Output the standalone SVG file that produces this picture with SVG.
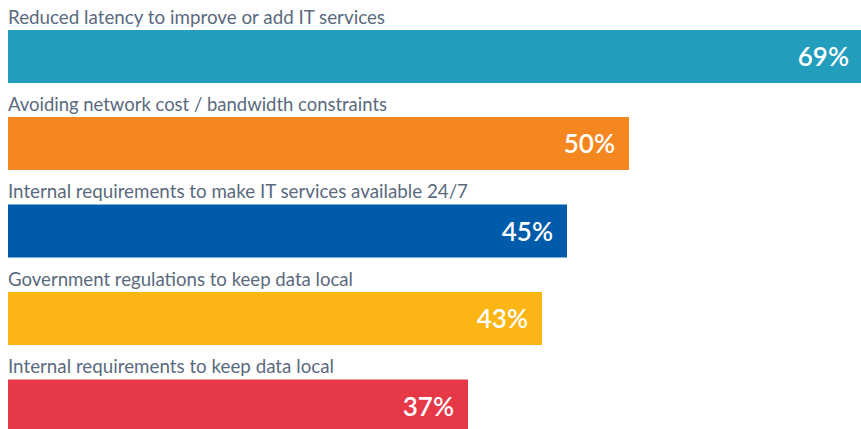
<svg xmlns="http://www.w3.org/2000/svg" width="861" height="429" viewBox="0 0 861 429">
<style>
.lbl{font-family:Lato,"Liberation Sans",sans-serif;font-size:18.6px;fill:#5a6a7e}
.pct{font-family:Lato,"Liberation Sans",sans-serif;font-size:26px;font-weight:600;fill:#ffffff;text-anchor:end}
</style>
<rect width="861" height="429" fill="#ffffff"/>
<g id="bar1">
<text class="lbl" x="8" y="23.5" textLength="377" lengthAdjust="spacingAndGlyphs">Reduced latency to improve or add IT services</text>
<rect x="8" y="30" width="853" height="53" fill="#229dbb"/>
<text class="pct" x="849" y="66">69%</text>
</g>
<g id="bar2">
<text class="lbl" x="8" y="110.7" textLength="379" lengthAdjust="spacingAndGlyphs">Avoiding network cost / bandwidth constraints</text>
<rect x="8" y="117" width="621" height="53" fill="#f58720"/>
<text class="pct" x="615" y="153">50%</text>
</g>
<g id="bar3">
<text class="lbl" x="8" y="198.2" textLength="460" lengthAdjust="spacingAndGlyphs">Internal requirements to make IT services available 24/7</text>
<rect x="8" y="204.5" width="559" height="53" fill="#005baa"/>
<text class="pct" x="553" y="240.5">45%</text>
</g>
<g id="bar4">
<text class="lbl" x="8" y="285.5" textLength="345" lengthAdjust="spacingAndGlyphs">Government regulations to keep data local</text>
<rect x="8" y="292" width="534" height="53" fill="#fbb515"/>
<text class="pct" x="528" y="328">43%</text>
</g>
<g id="bar5">
<text class="lbl" x="8" y="372.5" textLength="326" lengthAdjust="spacingAndGlyphs">Internal requirements to keep data local</text>
<rect x="8" y="379.5" width="460" height="49.5" fill="#e63847"/>
<text class="pct" x="454" y="415.5">37%</text>
</g>
</svg>
